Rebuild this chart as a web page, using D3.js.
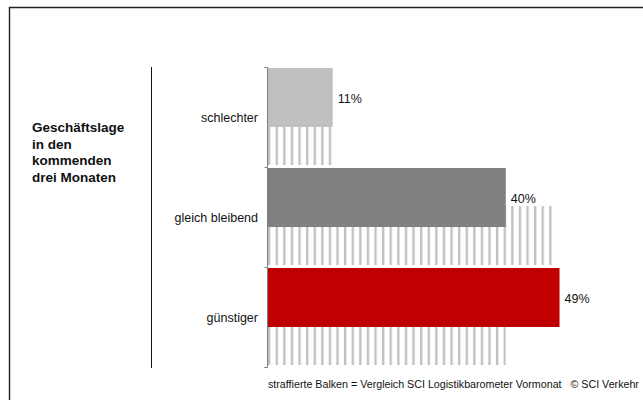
<!DOCTYPE html>
<html><head><meta charset="utf-8">
<script src="https://cdn.jsdelivr.net/npm/d3@7"></script>
<style>html,body{margin:0;padding:0;background:#fff;}svg{display:block;font-family:"Liberation Sans",Arial,sans-serif;}</style>
</head><body>
<script>
const categories = ["schlechter", "gleich bleibend", "günstiger"];
const currentValues = [11, 40, 49];
const previousValues = [11, 48, 40];
const barColors = ["#c0c0c0", "#808080", "#c00000"];
const titleLines = ["Geschäftslage", "in den", "kommenden", "drei Monaten"];
const footnote = "straffierte Balken = Vergleich SCI Logistikbarometer Vormonat   © SCI Verkehr";

const W = 643, H = 400;
const svg = d3.select("body").append("svg").attr("width", W).attr("height", H);

// frame
svg.append("path").attr("d", `M9.5,${H} V7.5 H${W}`).attr("fill", "none").attr("stroke", "#222").attr("stroke-width", 1.4);

const x = d3.scaleLinear().domain([0, 100]).range([267, 864]);
const y = d3.scaleBand().domain(categories).range([67, 367]).padding(0);

const defs = svg.append("defs");
const pat = defs.append("pattern").attr("id", "hatch").attr("patternUnits", "userSpaceOnUse")
  .attr("x", 268).attr("y", 0).attr("width", 7.6).attr("height", 10);
pat.append("rect").attr("x", 0).attr("y", 0).attr("width", 2.3).attr("height", 10).attr("fill", "#c0c0c0");

const data = categories.map((c, i) => ({c, cur: currentValues[i], prev: previousValues[i], color: barColors[i]}));

// previous month (hatched)
svg.selectAll("rect.prev").data(data).join("rect").attr("class", "prev")
  .attr("x", x(0) + 1).attr("y", d => y(d.c) + 39)
  .attr("width", d => x(d.prev) - x(0) - 1).attr("height", 59)
  .attr("fill", "url(#hatch)");

// current bars
svg.selectAll("rect.cur").data(data).join("rect").attr("class", "cur")
  .attr("x", x(0)).attr("y", d => y(d.c) + 1)
  .attr("width", d => x(d.cur) - x(0)).attr("height", 59)
  .attr("fill", d => d.color);

// value labels
svg.selectAll("text.val").data(data).join("text").attr("class", "val")
  .attr("x", d => x(d.cur) + 5).attr("y", d => y(d.c) + 31.5)
  .attr("dy", "0.35em").attr("font-size", 12.5).attr("fill", "#111")
  .text(d => d.cur + "%");

// category axis
const axis = d3.axisLeft(y).tickSize(3).tickFormat("");
const ag = svg.append("g").attr("transform", "translate(267.5,0)").call(axis);
ag.select(".domain").attr("stroke", "#808080").attr("d", "M-3,67.5H0V367.5H-3");
ag.selectAll(".tick").remove();
[67, 167, 267, 367].forEach(v => ag.append("line").attr("x1", -3).attr("x2", 0).attr("y1", v + 0.5).attr("y2", v + 0.5).attr("stroke", "#808080"));

svg.selectAll("text.cat").data(categories).join("text").attr("class", "cat")
  .attr("x", 258).attr("y", d => y(d) + 51).attr("dy", "0.35em")
  .attr("text-anchor", "end").attr("font-size", 12.5).attr("fill", "#111").text(d => d);

// separator
svg.append("line").attr("x1", 151.5).attr("x2", 151.5).attr("y1", 67).attr("y2", 368).attr("stroke", "#111").attr("stroke-width", 1);

// title
const t = svg.append("text").attr("x", 32).attr("y", 132).attr("font-size", 13.5).attr("font-weight", "bold").attr("fill", "#111");
titleLines.forEach((l, i) => t.append("tspan").attr("x", 32).attr("y", 132 + i * 16.5).text(l));

// footnote
svg.append("text").attr("x", 268).attr("y", 387.5).attr("font-size", 10.7).attr("fill", "#111").attr("xml:space", "preserve").style("white-space", "pre").text(footnote);
</script>
</body></html>
